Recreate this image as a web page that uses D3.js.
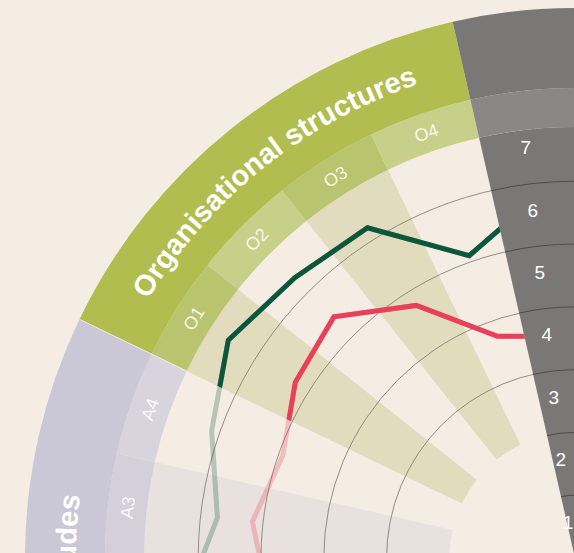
<!DOCTYPE html>
<html>
<head>
<meta charset="utf-8">
<script src="https://cdn.jsdelivr.net/npm/d3@7"></script>
<style>
  html, body { margin: 0; padding: 0; background: #f5ede4; overflow: hidden; }
  svg { display: block; }
  text { font-family: "Liberation Sans", Arial, Helvetica, sans-serif; }
</style>
</head>
<body>
<svg id="chart" width="574" height="553"></svg>
<script>
// ─── Data ───────────────────────────────────────────────────────────────────
const categories    = ["Attitudes", "Organisational structures"];
const categoryItems = [["A1", "A2", "A3", "A4"], ["O1", "O2", "O3", "O4"]];
const scaleTicks    = [1, 2, 3, 4, 5, 6, 7];

// Scores per item (A1..O4). A1 lies outside the visible crop.
const seriesGreen = [null, 6.25, 5.73, 6.13, 6.52, 6.31, 6.21, 5.10];
const seriesRed   = [null, 4.93, 5.17, 4.93, 5.26, 5.43, 4.75, 3.74];
// First item after the scale wedge (hidden under it, only the slope shows)
const wrapGreen = 7.0;
const wrapRed   = 3.55;

// ─── Layout ─────────────────────────────────────────────────────────────────
const W = 574, H = 553;
const CX = 575, CY = 558;
const SLOTS = 28;          // the full ring is split in 28 equal slots
const FIRST_SLOT = 19;     // slot of A1
const AXIS_SLOT = 27;      // grey scale wedge sits just left of 12 o'clock
const R_PLOT = 431, R_SUB = 470, R_OUT = 550, R_TITLE = 499, R_ITEM = 450.5;

const catColors = [
  { head: "#cac8d6", subOdd: "#d3cfdb", subEven: "#d8d4de", wedge: "#e9e1dd" },
  { head: "#b1bd4f", subOdd: "#b9c46f", subEven: "#c7d088", wedge: "#e2dcbf" }
];
const GREEN = "#0c573b", RED = "#e8405a";
const GREY = "#7a7877", GREY_SUB = "#8b8786";

const angle = d3.scaleLinear().domain([0, SLOTS]).range([0, 2 * Math.PI]);
const r = d3.scaleLinear().domain([0, 7]).range([0, 439.6]);
const deg = a => a * 180 / Math.PI;

const svg = d3.select("#chart");
svg.append("rect").attr("width", W).attr("height", H).attr("fill", "#f5ede4");
const g = svg.append("g").attr("transform", `translate(${CX},${CY})`);

const arc = d3.arc();
let slot = FIRST_SLOT;
const items = [];
categories.forEach((c, ci) => {
  categoryItems[ci].forEach((name, k) => {
    items.push({ name, cat: ci, k, slot: slot++ });
  });
});

// ─── Alternating item shading ───────────────────────────────────────────────
g.append("g").selectAll("path")
  .data(items.filter(d => d.k % 2 === 0))
  .join("path")
    .attr("d", d => arc({ innerRadius: r(2), outerRadius: R_PLOT,
                          startAngle: angle(d.slot), endAngle: angle(d.slot + 1) }))
    .attr("fill", d => catColors[d.cat].wedge);

// ─── Grid rings ─────────────────────────────────────────────────────────────
g.append("g").selectAll("circle")
  .data([3, 4, 5, 6])
  .join("circle")
    .attr("r", d => r(d))
    .attr("fill", "none")
    .attr("stroke", "#7a756f")
    .attr("stroke-width", 0.8);

// ─── Series lines ───────────────────────────────────────────────────────────
function points(values, wrap) {
  const pts = items.map((d, i) => ({ a: angle(d.slot + 0.5), v: values[i] }));
  pts.push({ a: angle(SLOTS + 0.5), v: wrap });
  return pts;
}
const line = d3.lineRadial()
  .defined(d => d.v != null)
  .angle(d => d.a)
  .radius(d => r(d.v));

const defs = svg.append("defs");
defs.append("clipPath").attr("id", "clip-org")
  .append("path")
  .attr("d", arc({ innerRadius: 0, outerRadius: R_PLOT,
                   startAngle: angle(FIRST_SLOT + 4), endAngle: angle(FIRST_SLOT + 8) }));

const series = [
  { values: seriesGreen, wrap: wrapGreen, color: GREEN },
  { values: seriesRed,   wrap: wrapRed,   color: RED }
];
const gl = g.append("g").attr("fill", "none").attr("stroke-width", 5)
  .attr("stroke-linejoin", "miter");
series.forEach(s => {
  gl.append("path").attr("d", line(points(s.values, s.wrap)))
    .attr("stroke", s.color).attr("stroke-opacity", 0.27);
});
series.forEach(s => {
  gl.append("path").attr("d", line(points(s.values, s.wrap)))
    .attr("stroke", s.color).attr("clip-path", "url(#clip-org)");
});

// ─── Category headers ───────────────────────────────────────────────────────
const head = g.append("g");
head.selectAll("path.sub")
  .data(items)
  .join("path")
    .attr("class", "sub")
    .attr("d", d => arc({ innerRadius: R_PLOT, outerRadius: R_SUB,
                          startAngle: angle(d.slot), endAngle: angle(d.slot + 1) }))
    .attr("fill", d => d.k % 2 === 0 ? catColors[d.cat].subOdd : catColors[d.cat].subEven);

const catSpans = categories.map((c, ci) => {
  const s0 = FIRST_SLOT + 4 * ci;
  return { name: c, ci, a0: angle(s0), a1: angle(s0 + categoryItems[ci].length) };
});
head.selectAll("path.cat")
  .data(catSpans)
  .join("path")
    .attr("class", "cat")
    .attr("d", d => arc({ innerRadius: R_SUB, outerRadius: R_OUT, startAngle: d.a0, endAngle: d.a1 }))
    .attr("fill", d => catColors[d.ci].head);

// thin light seam between categories
head.selectAll("line.seam")
  .data(catSpans)
  .join("line")
    .attr("class", "seam")
    .attr("x1", d => R_PLOT * Math.sin(d.a0)).attr("y1", d => -R_PLOT * Math.cos(d.a0))
    .attr("x2", d => R_OUT * Math.sin(d.a0)).attr("y2", d => -R_OUT * Math.cos(d.a0))
    .attr("stroke", "#f1eed6").attr("stroke-width", 1);

// item labels
head.selectAll("text.item")
  .data(items)
  .join("text")
    .attr("class", "item")
    .attr("transform", d => `rotate(${deg(angle(d.slot + 0.5))}) translate(0,${-R_ITEM})`)
    .attr("text-anchor", "middle")
    .attr("dy", "0.36em")
    .attr("font-size", 18)
    .attr("fill", "#ffffff")
    .attr("fill-opacity", 0.88)
    .text(d => d.name);

// category titles on arcs
catSpans.forEach(d => {
  const p = `M${R_TITLE * Math.sin(d.a0)},${-R_TITLE * Math.cos(d.a0)}` +
            `A${R_TITLE},${R_TITLE} 0 0 1 ${R_TITLE * Math.sin(d.a1)},${-R_TITLE * Math.cos(d.a1)}`;
  defs.append("path").attr("id", "title-path-" + d.ci).attr("d", p);
  head.append("text")
    .attr("font-size", 29)
    .attr("font-weight", "bold")
    .attr("fill", "#ffffff")
    .append("textPath")
      .attr("href", "#title-path-" + d.ci)
      .attr("startOffset", "50%")
      .attr("text-anchor", "middle")
      .text(d.name);
});

// ─── Grey scale wedge ───────────────────────────────────────────────────────
const ax = g.append("g");
const a0 = angle(AXIS_SLOT), a1 = angle(AXIS_SLOT + 1), am = angle(AXIS_SLOT + 0.5);
ax.append("path").attr("d", arc({ innerRadius: 0, outerRadius: R_PLOT, startAngle: a0, endAngle: a1 })).attr("fill", GREY);
ax.append("path").attr("d", arc({ innerRadius: R_PLOT, outerRadius: R_SUB, startAngle: a0, endAngle: a1 })).attr("fill", GREY_SUB);
ax.append("path").attr("d", arc({ innerRadius: R_SUB, outerRadius: R_OUT, startAngle: a0, endAngle: a1 })).attr("fill", GREY);

ax.selectAll("path.tick")
  .data(scaleTicks.filter(t => r(t) < R_PLOT))
  .join("path")
    .attr("class", "tick")
    .attr("d", t => `M${r(t) * Math.sin(a0)},${-r(t) * Math.cos(a0)}` +
                    `A${r(t)},${r(t)} 0 0 1 ${r(t) * Math.sin(a1)},${-r(t) * Math.cos(a1)}`)
    .attr("fill", "none")
    .attr("stroke", "#4e4c4b")
    .attr("stroke-width", 1);

ax.selectAll("text")
  .data(scaleTicks)
  .join("text")
    .attr("x", t => (r(t - 0.5) + 5) * Math.sin(am) - 3)
    .attr("y", t => -(r(t - 0.5) + 5) * Math.cos(am))
    .attr("dy", "0.36em")
    .attr("text-anchor", "middle")
    .attr("font-size", 19)
    .attr("fill", "#ffffff")
    .text(t => t);
</script>
</body>
</html>
